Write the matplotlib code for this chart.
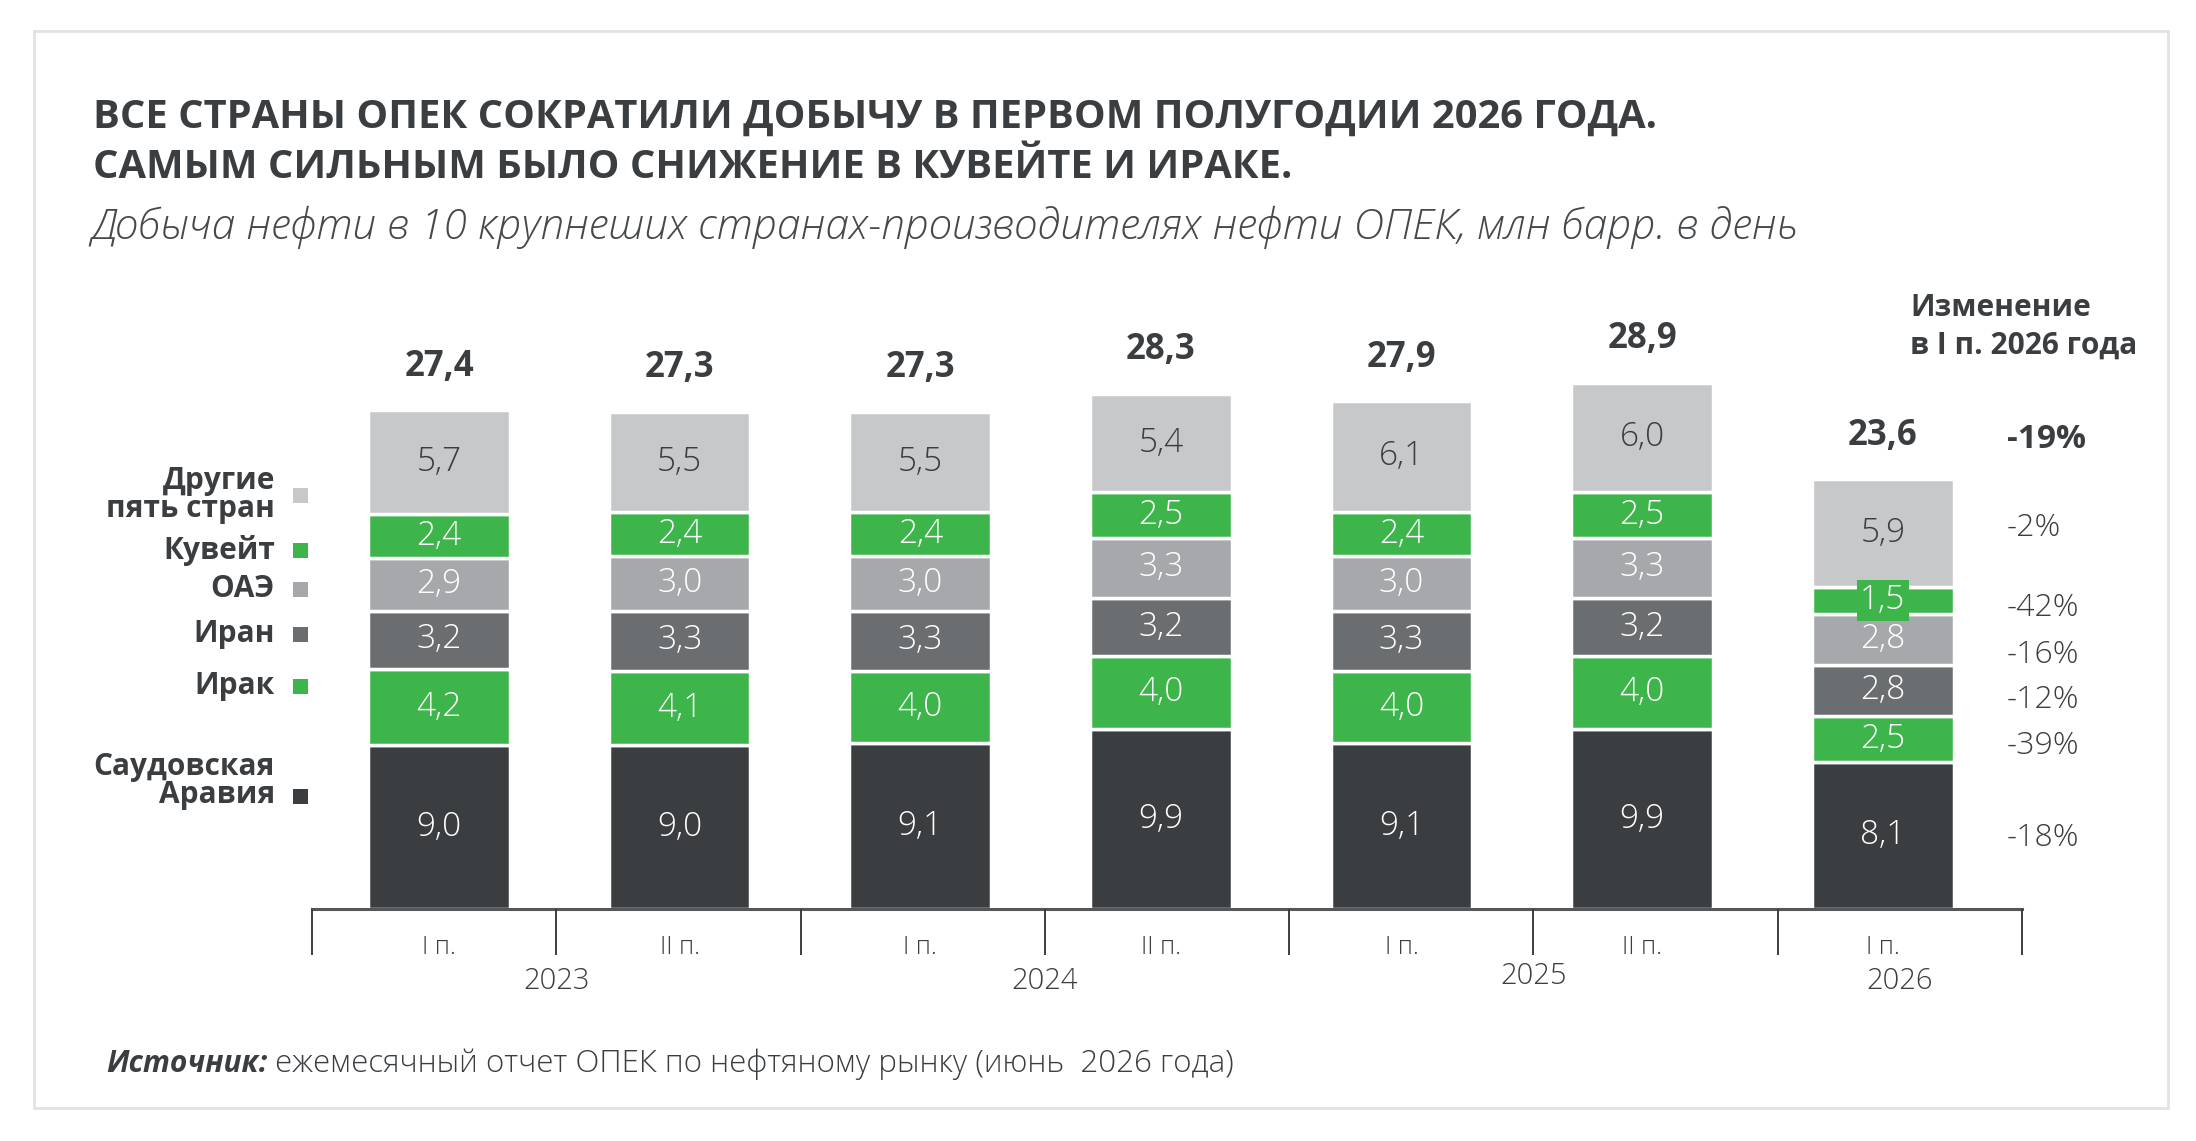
import matplotlib
matplotlib.use("Agg")
import matplotlib.pyplot as plt
from matplotlib.patches import Rectangle
import numpy as np

W, H = 2196, 1141

periods = ["I п.", "II п.", "I п.", "II п.", "I п.", "II п.", "I п."]
years = ["2023", "2024", "2025", "2026"]
year_pos = [0.5, 2.5, 4.5, 6.0]
year_y = [-3.95, -3.95, -3.7, -3.95]

series_names = ["Саудовская\nАравия", "Ирак", "Иран", "ОАЭ", "Кувейт", "Другие\nпять стран"]
saudi = [9.0, 9.0, 9.1, 9.9, 9.1, 9.9, 8.1]
iraq = [4.2, 4.1, 4.0, 4.0, 4.0, 4.0, 2.5]
iran = [3.2, 3.3, 3.3, 3.2, 3.3, 3.2, 2.8]
uae = [2.9, 3.0, 3.0, 3.3, 3.0, 3.3, 2.8]
kuwait = [2.4, 2.4, 2.4, 2.5, 2.4, 2.5, 1.5]
others = [5.7, 5.5, 5.5, 5.4, 6.1, 6.0, 5.9]
totals = [27.4, 27.3, 27.3, 28.3, 27.9, 28.9, 23.6]
change_total = "-19%"
change_labels = ["-18%", "-39%", "-12%", "-16%", "-42%", "-2%"]

colors = ["#3b3e41", "#3db54a", "#6b6e71", "#a6a8ab", "#3db54a", "#c7c8ca"]
text_colors = ["white", "white", "white", "white", "white", "#3b3e41"]

DARK = "#3b3e41"
FONT = "Open Sans"


def fx(px):
    return px / W


def fy(py):
    return 1 - py / H


fig = plt.figure(figsize=(W / 100, H / 100), dpi=100)
fig.patch.set_facecolor("white")

# light frame around everything
fig.patches.append(Rectangle((fx(34), fy(1108)), fx(2168) - fx(34), fy(31) - fy(1108),
                             transform=fig.transFigure, fill=False,
                             edgecolor="#e2e2e2", linewidth=2))

ax = fig.add_axes([312 / W, (H - 909) / H, 1710 / W, 637 / H])
ax.set_xlim(-0.5, 6.5)
ax.set_ylim(0, 35)
ax.axis("off")

x = np.arange(len(periods)) * 0.985 + 0.02
data = [saudi, iraq, iran, uae, kuwait, others]
bottom = np.zeros(len(periods))
for i, vals in enumerate(data):
    vals = np.array(vals)
    ax.bar(x, vals, 0.58, bottom=bottom, color=colors[i],
           edgecolor="white", linewidth=2.5)
    for j, v in enumerate(vals):
        lbl = f"{v:.1f}".replace(".", ",")
        kw = {}
        if v < 2.0:
            kw["bbox"] = dict(boxstyle="square,pad=0.1", facecolor=colors[i], edgecolor="none")
        ax.text(x[j], bottom[j] + v / 2, lbl, ha="center", va="center",
                fontsize=24, color=text_colors[i], family=FONT, fontweight="light", **kw)
    bottom += vals

for j, t in enumerate(totals):
    ax.text(x[j], t + 2.4, f"{t:.1f}".replace(".", ","), ha="center", va="center",
            fontsize=25, fontweight="bold", color=DARK, family=FONT)

# baseline and separators
ax.plot([-0.5, 6.5], [0, 0], color="#55585b", linewidth=2.2, clip_on=False)
ax.vlines(np.arange(-0.5, 7.0, 1.0), -2.53, 0, color="#3b3e41", linewidth=1.4, clip_on=False)
for j, p in enumerate(periods):
    ax.text(x[j], -2.1, p, ha="center", va="center", fontsize=18,
            color=DARK, family=FONT, fontweight="light")
for yr, pos, yy in zip(years, year_pos, year_y):
    ax.text(pos, yy, yr, ha="center", va="center", fontsize=21,
            color=DARK, family=FONT, fontweight="light")

# titles
fig.text(fx(93), fy(128), "ВСЕ СТРАНЫ ОПЕК СОКРАТИЛИ ДОБЫЧУ В ПЕРВОМ ПОЛУГОДИИ 2026 ГОДА.",
         fontsize=28.7, fontweight="bold", color=DARK, family=FONT, va="baseline")
fig.text(fx(93), fy(178), "САМЫМ СИЛЬНЫМ БЫЛО СНИЖЕНИЕ В КУВЕЙТЕ И ИРАКЕ.",
         fontsize=28.7, fontweight="bold", color=DARK, family=FONT, va="baseline")
fig.text(fx(91), fy(239), "Добыча нефти в 10 крупнеших странах-производителях нефти ОПЕК, млн барр. в день",
         fontsize=30.5, style="italic", fontweight="light", color="#46494c", family=FONT, va="baseline")

# legend on the left
legend_y = [781, 686, 634, 589, 551, 495]
square_y = [796, 686, 634, 589, 551, 496]
for i, name in enumerate(series_names):
    fig.text(fx(275), fy(legend_y[i]), name, ha="right", va="center", fontsize=21.5,
             fontweight="bold", color=DARK, family=FONT, linespacing=0.92)
    fig.patches.append(Rectangle((fx(293), fy(square_y[i] + 7.5)), 15 / W, 15 / H,
                                 transform=fig.transFigure, facecolor=colors[i],
                                 edgecolor="none"))

# change column on the right
fig.text(fx(1910), fy(308), "Изменение", ha="left", va="center", fontsize=21.5,
         fontweight="bold", color=DARK, family=FONT)
fig.text(fx(1910), fy(346), "в I п. 2026 года", ha="left", va="center", fontsize=21.5,
         fontweight="bold", color=DARK, family=FONT)
fig.text(fx(2007), fy(439), change_total, ha="left", va="center", fontsize=24,
         fontweight="bold", color=DARK, family=FONT)
change_y = [838, 746, 700, 655, 608, 528]
for lbl, yy in zip(change_labels, change_y):
    fig.text(fx(2007), fy(yy), lbl, ha="left", va="center", fontsize=23,
             fontweight="light", color=DARK, family=FONT)

# source
src = fig.text(fx(106), fy(1064), "Источник:", ha="left", va="center", fontsize=21.5,
               fontweight="bold", style="italic", color=DARK, family=FONT)
fig.canvas.draw()
bb = src.get_window_extent()
fig.text((bb.x1 + 8) / W, fy(1064), "ежемесячный отчет ОПЕК по нефтяному рынку (июнь  2026 года)",
         ha="left", va="center", fontsize=22.5, color=DARK, family=FONT, fontweight="light")

fig.savefig("out.png", dpi=100, facecolor="white")
